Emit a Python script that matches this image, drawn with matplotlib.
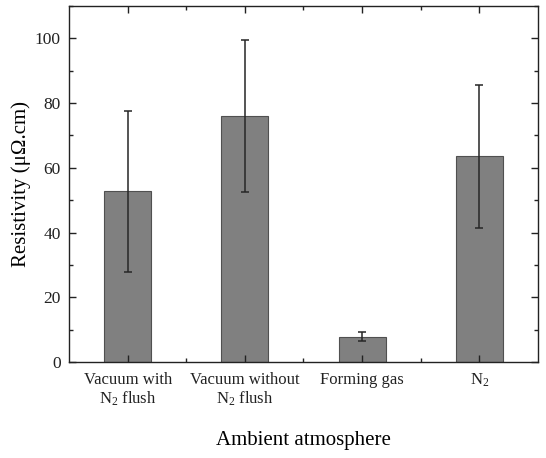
import matplotlib
matplotlib.use("Agg")
import matplotlib.pyplot as plt
from matplotlib.ticker import MultipleLocator, FixedLocator

plt.rcParams["font.family"] = ["Liberation Serif", "DejaVu Serif"]
plt.rcParams["mathtext.fontset"] = "custom"
plt.rcParams["mathtext.rm"] = "Liberation Serif"
plt.rcParams["mathtext.it"] = "Liberation Serif:italic"

# data
categories = ["Vacuum with\nN$_2$ flush", "Vacuum without\nN$_2$ flush", "Forming gas", "N$_2$"]
resistivity = [52.7, 76.0, 7.8, 63.5]
errors = [25.0, 23.6, 1.4, 22.2]

fig = plt.figure(figsize=(5.46, 4.58), dpi=100)
ax = fig.add_axes([0.1264, 0.2096, 0.8589, 0.7773])

x = list(range(1, len(categories) + 1))
ax.bar(x, resistivity, width=0.4, color="#808080", edgecolor="#505050", linewidth=0.8)
ax.errorbar(x, resistivity, yerr=errors, fmt="none", ecolor="#262626",
            elinewidth=1.1, capsize=3, capthick=1.1)

ax.set_xlim(0.5, 4.5)
ax.set_ylim(0, 110)

ax.xaxis.set_major_locator(FixedLocator(x))
ax.xaxis.set_minor_locator(FixedLocator([1.5, 2.5, 3.5]))
ax.yaxis.set_major_locator(MultipleLocator(20))
ax.yaxis.set_minor_locator(MultipleLocator(10))
ax.set_yticks([0, 20, 40, 60, 80, 100])
ax.set_xticklabels(categories, fontsize=12, va="top", linespacing=1.1)

ax.tick_params(which="both", direction="in", top=True, right=True, colors="#222222")
ax.tick_params(axis="y", labelsize=12.5, pad=6)
ax.tick_params(axis="x", which="major", labelsize=12, pad=7)
ax.tick_params(which="major", length=5, width=1)
ax.tick_params(which="minor", length=3, width=1)
for s in ax.spines.values():
    s.set_linewidth(1.0)
    s.set_color("#222222")

ax.set_ylabel("Resistivity (μΩ.cm)", fontsize=15, labelpad=3)
ax.set_xlabel("Ambient atmosphere", fontsize=15, labelpad=17)

fig.savefig("out.png", dpi=100)
